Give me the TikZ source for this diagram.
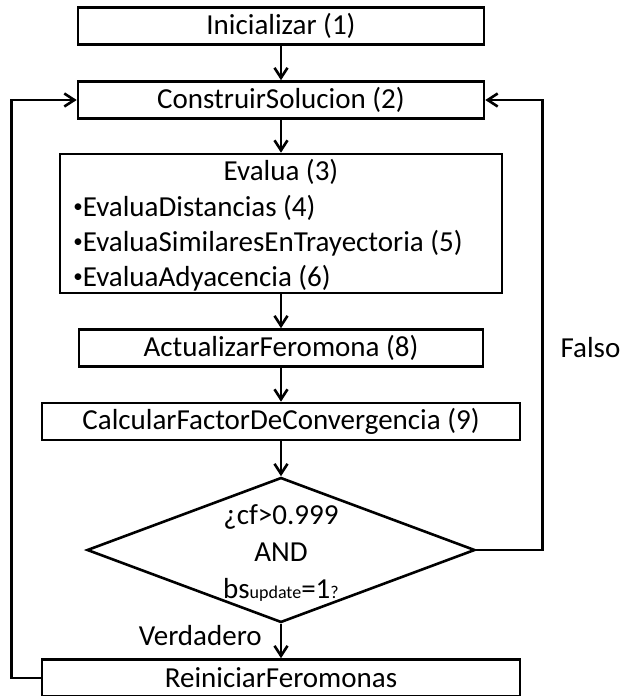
\documentclass[tikz,border=0pt]{standalone}
\usepackage{fontspec}
\setmainfont{Carlito}
\usetikzlibrary{arrows.meta, positioning, shapes.geometric}
\def\boxheight{18.5pt}
\newcommand{\smallbullet}{\raisebox{2pt}{\fontsize{9.5}{9.5}\selectfont\textbullet}}

\begin{document}
\begin{tikzpicture}[x=0.5pt,y=-0.5pt,line width=1.3pt,>={Straight Barb[length=5pt,width=6.5pt]},font=\fontsize{14.5}{17.5}\selectfont]
    \tikzstyle{stepbox}=[rectangle,draw=black,minimum height=\boxheight,inner sep=0pt]
    \tikzstyle{decision}=[diamond,draw=black,minimum width=194pt,minimum height=72.5pt,inner sep=0pt]
    \tikzstyle{annot}=[inner sep=0pt]
    \useasboundingbox (0,0) rectangle (622,696);

    % Draw the process boxes
    \foreach \name / \y / \w / \txt in {init/26/203pt/Inicializar (1), cons/100/203pt/ConstruirSolucion (2), act/348/202pt/ActualizarFeromona (8), calc/421.5/239pt/CalcularFactorDeConvergencia (9), rein/678/239pt/ReiniciarFeromonas}
        \node[stepbox, minimum width=\w] (\name) at (281,\y) {\txt};

    % Draw the evaluation box and its lines
    \node[stepbox, minimum width=221pt, minimum height=69.5pt] (eval) at (281,223.5) {};
    \node[annot] (E-0) at (281,172) {Evalua (3)};
    \foreach \name / \y / \txt in {1/208/EvaluaDistancias (4), 2/243/EvaluaSimilaresEnTrayectoria (5), 3/278/EvaluaAdyacencia (6)}
        \node[annot, anchor=west] (E-\name) at (72,\y) {\smallbullet\txt};

    % Draw the decision node
    \node[decision] (cond) at (281,550) {};
    \node[annot, align=center, font=\fontsize{14.5}{18.3}\selectfont] (C-t) at (281,553)
        {¿cf>0.999\\AND\\bs{\fontsize{9}{9}\selectfont update}=1{\fontsize{9}{9}\selectfont ?}};

    % Connect every box with the next one
    \foreach \source / \dest in {init/cons, cons/eval, eval/act, act/calc, calc/cond}
        \draw[->] (\source) -- (\dest);
    \draw[->] (cond) -- node[annot, left=9pt, pos=0.35] {Verdadero} (rein);

    % Loop back to ConstruirSolucion
    \draw[->] (rein.west) -- ++(-29,0) |- (cons.west);
    \draw[->] (cond.east) -- ++(66,0) coordinate (f) -- node[annot, right=8.5pt, pos=0.45] {Falso} (f |- cons.east) -- (cons.east);
\end{tikzpicture}
\end{document}
